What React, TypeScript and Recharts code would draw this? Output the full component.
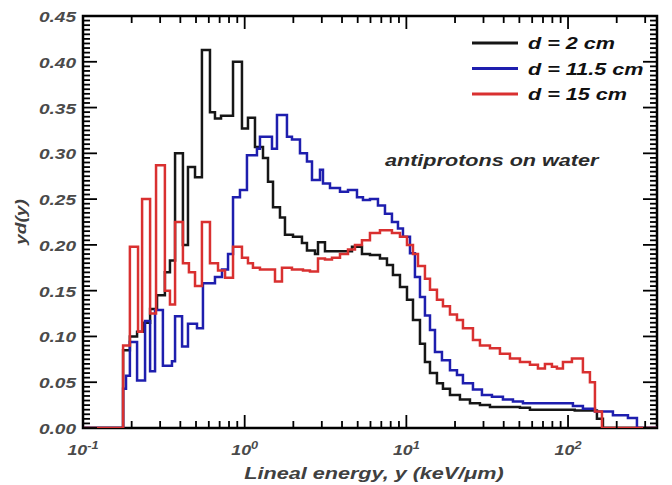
import { LineChart, Line, XAxis, YAxis, Legend, ReferenceArea } from "recharts";

const X_MIN = 0.1;
const X_MAX = 355;

// Left bin edges (keV/µm) and yd(y) heights for each depth
const edges2cm = [0.1, 0.177, 0.195, 0.216, 0.235, 0.26, 0.287, 0.321, 0.345, 0.371, 0.415, 0.446, 0.493, 0.544, 0.61, 0.655, 0.714, 0.847, 0.962, 1.048, 1.158, 1.298, 1.394, 1.497, 1.653, 1.775, 1.99, 2.261, 2.428, 2.722, 2.841, 3.138, 4.61, 5.314, 5.955, 6.866, 7.587, 8.262, 9.13, 10.09, 10.99, 12.14, 13.03, 14.0, 15.46, 16.84, 18.61, 21.45, 24.74, 28.52, 32.89, 50.41, 58.13, 110, 150.9, 164.4];
const values2cm = [0, 0.085, 0.1, 0.105, 0.115, 0.13, 0.145, 0.17, 0.183, 0.3, 0.2, 0.285, 0.274, 0.413, 0.345, 0.338, 0.341, 0.4, 0.327, 0.339, 0.307, 0.295, 0.269, 0.241, 0.23, 0.211, 0.209, 0.202, 0.194, 0.19, 0.203, 0.193, 0.198, 0.19, 0.189, 0.185, 0.178, 0.167, 0.154, 0.14, 0.118, 0.092, 0.072, 0.06, 0.049, 0.043, 0.036, 0.031, 0.027, 0.025, 0.023, 0.022, 0.02, 0.019, 0.01, 0];

const edges11cm = [0.1, 0.177, 0.1845, 0.195, 0.216, 0.242, 0.26, 0.279, 0.312, 0.355, 0.371, 0.41, 0.446, 0.507, 0.552, 0.655, 0.724, 0.789, 0.847, 0.935, 1.033, 1.191, 1.243, 1.475, 1.584, 1.826, 1.961, 2.198, 2.428, 2.608, 2.923, 3.05, 3.37, 3.886, 4.355, 4.95, 5.39, 5.955, 6.673, 7.374, 8.145, 8.874, 9.528, 10.53, 11.3, 12.14, 13.03, 14.0, 15.03, 16.6, 18.61, 20.56, 22.39, 25.82, 29.34, 33.83, 39.57, 45.63, 52.61, 107.2, 123.6, 146.7, 189.5, 234.7, 266.8];
const values11cm = [0, 0.043, 0.057, 0.094, 0.052, 0.117, 0.062, 0.129, 0.068, 0.073, 0.122, 0.089, 0.114, 0.109, 0.158, 0.165, 0.173, 0.19, 0.252, 0.26, 0.298, 0.305, 0.318, 0.305, 0.342, 0.318, 0.315, 0.3, 0.291, 0.271, 0.282, 0.267, 0.262, 0.258, 0.26, 0.252, 0.249, 0.25, 0.243, 0.234, 0.225, 0.218, 0.209, 0.191, 0.165, 0.143, 0.123, 0.107, 0.083, 0.074, 0.063, 0.058, 0.049, 0.042, 0.036, 0.034, 0.031, 0.029, 0.027, 0.024, 0.021, 0.018, 0.014, 0.011, 0];

const edges15cm = [0.1, 0.177, 0.195, 0.219, 0.232, 0.26, 0.283, 0.321, 0.345, 0.371, 0.415, 0.452, 0.493, 0.544, 0.61, 0.684, 0.756, 0.847, 0.962, 1.048, 1.125, 1.243, 1.54, 1.701, 1.961, 2.294, 2.534, 2.841, 3.138, 3.467, 3.886, 4.355, 4.811, 5.314, 5.955, 6.866, 8.145, 9.13, 10.09, 10.99, 11.8, 13.03, 14.0, 15.46, 16.84, 18.61, 20.56, 22.39, 25.82, 28.52, 32.89, 37.91, 43.72, 50.41, 58.13, 65.14, 71.96, 79.5, 85.36, 93.01, 105.7, 123.6, 136.6, 146.7, 162.1];
const values15cm = [0, 0.09, 0.198, 0.105, 0.25, 0.125, 0.287, 0.15, 0.135, 0.225, 0.18, 0.17, 0.155, 0.225, 0.18, 0.172, 0.164, 0.198, 0.186, 0.18, 0.175, 0.173, 0.16, 0.175, 0.173, 0.172, 0.171, 0.185, 0.184, 0.186, 0.19, 0.195, 0.2, 0.205, 0.213, 0.216, 0.213, 0.209, 0.2, 0.19, 0.177, 0.163, 0.151, 0.14, 0.133, 0.124, 0.118, 0.109, 0.096, 0.09, 0.087, 0.081, 0.076, 0.072, 0.069, 0.065, 0.07, 0.067, 0.065, 0.072, 0.076, 0.061, 0.05, 0.018, 0];

const xMajorTicks = [0.1, 1, 10, 100];
const yMajorTicks = [0, 0.05, 0.1, 0.15, 0.2, 0.25, 0.3, 0.35, 0.4, 0.45];

// log minor ticks 2..9 in every decade, y minor every 0.005
const xMinorTicks = xMajorTicks
  .flatMap((d) => [2, 3, 4, 5, 6, 7, 8, 9].map((m) => m * d))
  .filter((v) => v < X_MAX);
const yMinorTicks = Array.from({ length: 91 }, (_, i) => (i * 5) / 1000).filter((_, i) => i % 10 !== 0);

// step histogram points; the curve is held at zero out to the axis end
const toSteps = (edges: number[], values: number[]) => [
  ...edges.map((x, i) => ({ x, y: values[i] })),
  { x: X_MAX, y: 0 },
];

const SERIES = [
  { name: "d = 2 cm", color: "#161616", data: toSteps(edges2cm, values2cm) },
  { name: "d = 11.5 cm", color: "#1e1eae", data: toSteps(edges11cm, values11cm) },
  { name: "d = 15 cm", color: "#d93030", data: toSteps(edges15cm, values15cm) },
];

const WIDTH = 672;
const HEIGHT = 485;
const MARGIN = { top: 16, right: 15, bottom: 0, left: 0 };
const PLOT_TOP = MARGIN.top;
const PLOT_RIGHT = WIDTH - MARGIN.right;

const FONT = "'Liberation Sans', Arial, Helvetica, sans-serif";
const WIDE = 1.27; // the lettering is set wide
const MAJOR_LEN = 13;
const MINOR_LEN = 7;
const TICK_W = 1.8;

// bottom tick label plus inward ticks on the bottom and top edges
const XTick = ({ x, y, payload }: any) => {
  const major = xMajorTicks.includes(payload.value);
  const len = major ? MAJOR_LEN : MINOR_LEN;
  const exp = Math.round(Math.log10(payload.value));
  return (
    <g>
      <line x1={x} x2={x} y1={y} y2={y - len} stroke="#000" strokeWidth={TICK_W} />
      <line x1={x} x2={x} y1={PLOT_TOP} y2={PLOT_TOP + len} stroke="#000" strokeWidth={TICK_W} />
      {major && (
        <text
          transform={`translate(${x},${y + 27}) scale(${WIDE},1)`}
          textAnchor="middle"
          fontFamily={FONT}
          fontWeight={700}
          fontStyle="italic"
          fontSize={14}
          fill="#4a4a4a"
        >
          10
          <tspan dy={-6} fontSize={10}>
            {exp}
          </tspan>
        </text>
      )}
    </g>
  );
};

// left tick label plus inward ticks on the left and right edges
const YTick = ({ x, y, payload }: any) => {
  const major = Math.round(payload.value * 1000) % 50 === 0;
  const len = major ? MAJOR_LEN + 1 : MINOR_LEN;
  return (
    <g>
      <line x1={x} x2={x + len} y1={y} y2={y} stroke="#000" strokeWidth={TICK_W} />
      <line x1={PLOT_RIGHT} x2={PLOT_RIGHT - len} y1={y} y2={y} stroke="#000" strokeWidth={TICK_W} />
      {major && (
        <text
          transform={`translate(${x - 7},${y + 6}) scale(${WIDE},1)`}
          textAnchor="end"
          fontFamily={FONT}
          fontWeight={700}
          fontStyle="italic"
          fontSize={15}
          fill="#4a4a4a"
        >
          {payload.value.toFixed(2)}
        </text>
      )}
    </g>
  );
};

const renderLegend = () => (
  <svg width={200} height={80}>
    {SERIES.map((s, i) => (
      <g key={s.name}>
        <line x1={7} x2={53} y1={15 + 25.5 * i} y2={15 + 25.5 * i} stroke={s.color} strokeWidth={2.8} />
        <text
          transform={`translate(63,${21 + 25.5 * i}) scale(${WIDE},1)`}
          fontFamily={FONT}
          fontWeight={700}
          fontStyle="italic"
          fontSize={17}
          fill="#111"
        >
          {s.name}
        </text>
      </g>
    ))}
  </svg>
);

export default function App() {
  return (
    <div style={{ position: "fixed", left: 0, top: 0, background: "#fff" }}>
      <LineChart width={WIDTH} height={HEIGHT} margin={MARGIN}>
        <XAxis
          xAxisId="x"
          dataKey="x"
          type="number"
          scale="log"
          domain={[X_MIN, X_MAX]}
          allowDataOverflow
          ticks={[...xMajorTicks, ...xMinorTicks]}
          interval={0}
          height={57}
          tickSize={0}
          tickMargin={0}
          tickLine={false}
          axisLine={false}
          tick={<XTick />}
        />
        <YAxis
          yAxisId="y"
          type="number"
          domain={[0, 0.45]}
          allowDataOverflow
          ticks={[...yMajorTicks, ...yMinorTicks]}
          interval={0}
          width={83}
          tickSize={0}
          tickMargin={0}
          tickLine={false}
          axisLine={false}
          tick={<YTick />}
        />

        {SERIES.map((s) => (
          <Line
            key={s.name}
            name={s.name}
            data={s.data}
            dataKey="y"
            xAxisId="x"
            yAxisId="y"
            type="stepAfter"
            stroke={s.color}
            strokeWidth={2.5}
            dot={false}
            activeDot={false}
            isAnimationActive={false}
          />
        ))}

        {/* plot frame */}
        <ReferenceArea
          xAxisId="x"
          yAxisId="y"
          x1={X_MIN}
          x2={X_MAX}
          y1={0}
          y2={0.45}
          fill="none"
          fillOpacity={0}
          stroke="#000"
          strokeWidth={2.5}
          ifOverflow="visible"
        />

        <Legend
          layout="vertical"
          align="center"
          verticalAlign="middle"
          content={renderLegend}
          wrapperStyle={{ left: 465, top: 28, width: 200, height: 80 }}
        />

        <text
          transform={`translate(385,166) scale(${WIDE},1)`}
          fontFamily={FONT}
          fontWeight={700}
          fontStyle="italic"
          fontSize={17}
          fill="#2a2a2a"
        >
          antiprotons on water
        </text>
        <text
          transform={`translate(374,479) scale(${WIDE},1)`}
          textAnchor="middle"
          fontFamily={FONT}
          fontWeight={700}
          fontStyle="italic"
          fontSize={17}
          fill="#404040"
        >
          Lineal energy, y (keV/μm)
        </text>
        <text
          transform={`translate(26,222) rotate(-90) scale(${WIDE},1)`}
          textAnchor="middle"
          fontFamily={FONT}
          fontWeight={700}
          fontStyle="italic"
          fontSize={15}
          fill="#404040"
        >
          yd(y)
        </text>
      </LineChart>
    </div>
  );
}
